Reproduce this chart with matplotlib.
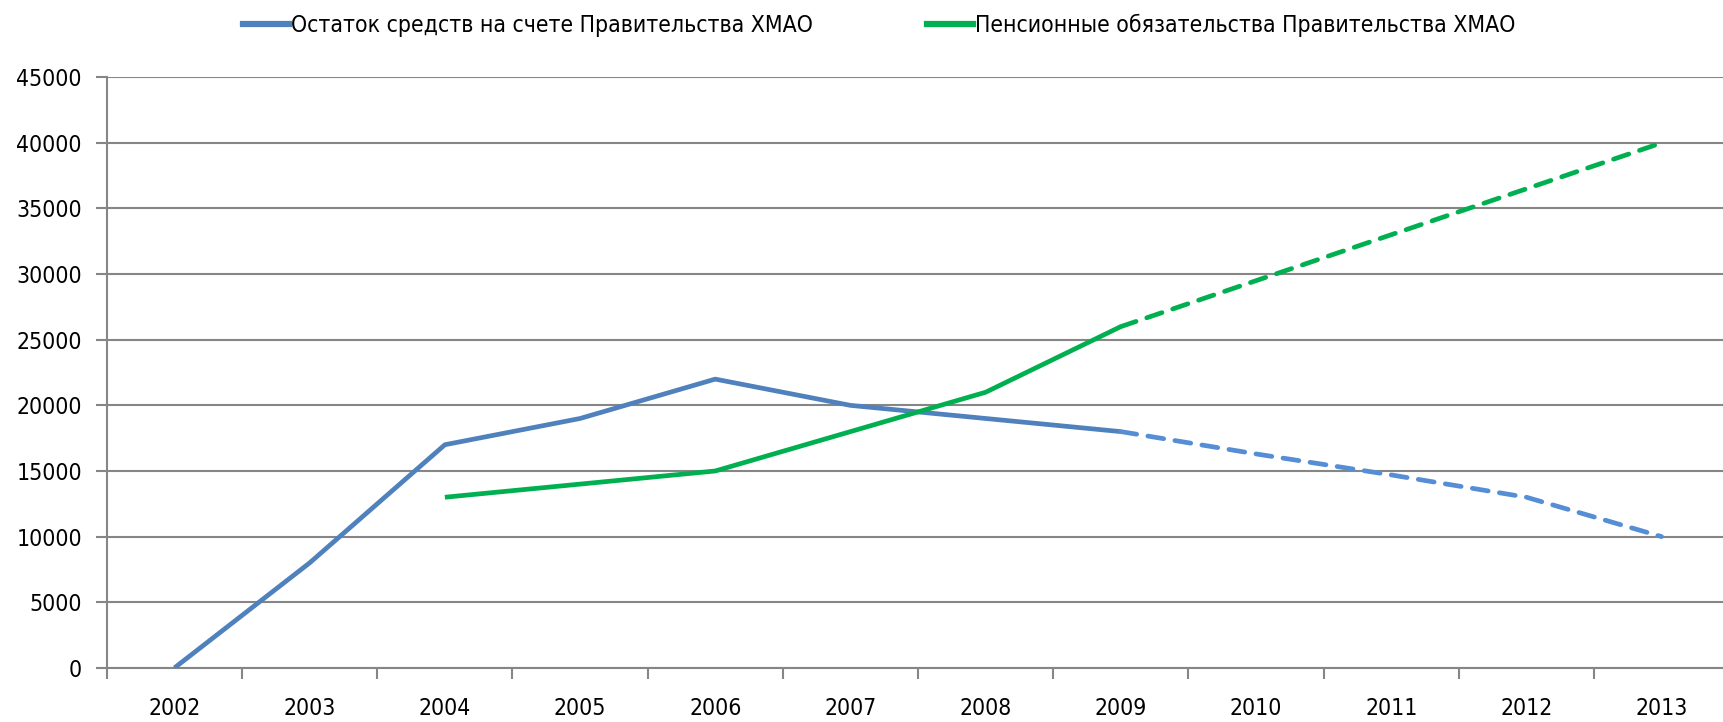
import matplotlib
matplotlib.use("Agg")
import matplotlib.pyplot as plt
from matplotlib.lines import Line2D

# data
YEARS = ["2002", "2003", "2004", "2005", "2006", "2007",
         "2008", "2009", "2010", "2011", "2012", "2013"]
BALANCE = [0, 8000, 17000, 19000, 22000, 20000, 19000, 18000,
           16300, 14700, 13000, 10000]
PENSION = [None, None, 13000, 14000, 15000, 18000, 21000, 26000,
           29500, 33000, 36500, 40000]
SPLIT = 7  # index of 2009: actual values up to here, forecast after

BALANCE_LABEL = "Остаток средств на счете Правительства ХМАО"
PENSION_LABEL = "Пенсионные обязательства Правительства ХМАО"

BLUE = "#4F81BD"
BLUE_LIGHT = "#558ED5"
GREEN = "#00B050"
AXIS = "#868686"

plt.rcParams["font.family"] = ["DejaVu Sans"]
plt.rcParams["font.stretch"] = "condensed"
plt.rcParams["font.size"] = 16.5

fig = plt.figure(figsize=(17.24, 7.22), dpi=100)
ax = fig.add_axes([0.062, 0.075, 0.941, 0.818])

x = list(range(len(YEARS)))
lw = 3.4
dash = (3.4, 2.4)

# actual (solid)
ax.plot(x[:SPLIT + 1], BALANCE[:SPLIT + 1], color=BLUE, lw=lw, solid_capstyle="butt", zorder=3)
px = [i for i in x[:SPLIT + 1] if PENSION[i] is not None]
ax.plot(px, [PENSION[i] for i in px], color=GREEN, lw=lw, solid_capstyle="butt", zorder=3)
# forecast (dashed)
ax.plot(x[SPLIT:], BALANCE[SPLIT:], color=BLUE_LIGHT, lw=lw, dashes=dash,
        dash_capstyle="round", zorder=3)
ax.plot(x[SPLIT:], PENSION[SPLIT:], color=GREEN, lw=lw, dashes=dash,
        dash_capstyle="round", zorder=3)

ax.set_xlim(-0.5, len(YEARS) - 0.5)
ax.set_ylim(0, 45000)
ax.set_yticks(range(0, 45001, 5000))

# category labels centred, tick marks on category borders
ax.set_xticks(x)
ax.set_xticklabels(YEARS)
ax.set_xticks([i - 0.5 for i in range(len(YEARS) + 1)], minor=True)
ax.tick_params(axis="x", which="major", length=0, pad=21)
ax.tick_params(axis="x", which="minor", length=8, width=1.5, color=AXIS, direction="out")
ax.tick_params(axis="y", length=8, width=1.5, color=AXIS, direction="out", pad=10)

ax.yaxis.grid(True, color=AXIS, lw=1.5)
ax.set_axisbelow(True)
for s in ("top", "right"):
    ax.spines[s].set_visible(False)
for s in ("left", "bottom"):
    ax.spines[s].set_color(AXIS)
    ax.spines[s].set_linewidth(1.5)

handles = [Line2D([], [], color=BLUE, lw=4.5), Line2D([], [], color=GREEN, lw=4.5)]
fig.legend(handles, [BALANCE_LABEL, PENSION_LABEL], loc="center",
           bbox_to_anchor=(0.51, 0.965), ncol=2, frameon=False,
           handlelength=2.0, handletextpad=0.1, columnspacing=5.0)

fig.savefig("out.png", dpi=100)
